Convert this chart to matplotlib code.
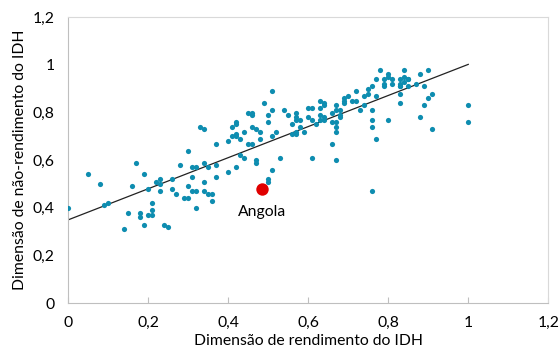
import numpy as np
import matplotlib
matplotlib.use("Agg")
import matplotlib.pyplot as plt

plt.rcParams['font.family'] = ['Lato', 'DejaVu Sans']

# dimensão de rendimento (x) e não-rendimento (y) do IDH
rend = [0.00, 0.05, 0.08, 0.09, 0.10, 0.17, 0.19, 0.16, 0.15, 0.14, 0.18, 0.18, 0.20, 0.19,
        0.21, 0.21, 0.21, 0.20, 0.22, 0.23, 0.23, 0.23, 0.24, 0.25, 0.26, 0.27, 0.26, 0.28,
        0.33, 0.34, 0.30, 0.30, 0.29, 0.30, 0.31, 0.32, 0.32, 0.31, 0.31, 0.32, 0.34, 0.35,
        0.34, 0.34, 0.35, 0.36, 0.36, 0.37, 0.37, 0.37, 0.40, 0.40, 0.41, 0.41, 0.42, 0.42,
        0.42, 0.42, 0.43, 0.44, 0.42, 0.45, 0.46, 0.46, 0.47, 0.48, 0.43, 0.44, 0.47, 0.47,
        0.48, 0.50, 0.51, 0.52, 0.53, 0.51, 0.50, 0.50,
        0.51, 0.49, 0.45, 0.46, 0.46, 0.50, 0.51, 0.54, 0.55, 0.57, 0.57, 0.57, 0.58, 0.56,
        0.58, 0.56, 0.57, 0.57, 0.59, 0.60, 0.61, 0.60, 0.61, 0.63, 0.64, 0.64, 0.63, 0.63,
        0.62, 0.63, 0.64, 0.64, 0.61, 0.66, 0.67, 0.66, 0.67, 0.66, 0.67, 0.67, 0.68, 0.68,
        0.67, 0.67, 0.68, 0.69, 0.69, 0.69, 0.70, 0.72, 0.71, 0.72, 0.73,
        0.78, 0.84, 0.90, 0.80, 0.81, 0.80, 0.79, 0.77, 0.76, 0.75, 0.75, 0.74, 0.79, 0.79,
        0.81, 0.83, 0.84, 0.84, 0.85, 0.85, 0.83, 0.83, 0.83, 0.85, 0.87, 0.88, 0.89, 0.83,
        0.77, 0.74, 0.76, 0.76, 0.76, 0.77, 0.80, 0.83, 0.88, 0.89, 0.90, 0.91, 0.91, 1.00,
        1.00, 0.76]
nao_rend = [0.40, 0.54, 0.50, 0.41, 0.42, 0.59, 0.54, 0.49, 0.38, 0.31, 0.38, 0.36, 0.37, 0.33,
            0.39, 0.42, 0.37, 0.48, 0.51, 0.52, 0.50, 0.47, 0.33, 0.32, 0.48, 0.46, 0.52, 0.58,
            0.74, 0.73, 0.64, 0.49, 0.44, 0.44, 0.47, 0.47, 0.40, 0.53, 0.57, 0.57, 0.59, 0.57,
            0.51, 0.47, 0.46, 0.46, 0.43, 0.58, 0.53, 0.67, 0.55, 0.68, 0.70, 0.74, 0.75, 0.76,
            0.71, 0.70, 0.69, 0.72, 0.57, 0.67, 0.67, 0.74, 0.73, 0.72, 0.62, 0.61, 0.59, 0.60,
            0.69, 0.76, 0.70, 0.72, 0.61, 0.56, 0.51, 0.52,
            0.89, 0.84, 0.80, 0.79, 0.80, 0.79, 0.81, 0.81, 0.79, 0.80, 0.77, 0.78, 0.77, 0.75,
            0.74, 0.71, 0.71, 0.72, 0.72, 0.82, 0.82, 0.78, 0.77, 0.85, 0.84, 0.83, 0.82, 0.79,
            0.75, 0.77, 0.77, 0.78, 0.61, 0.67, 0.60, 0.76, 0.76, 0.80, 0.81, 0.83, 0.79, 0.78,
            0.74, 0.72, 0.81, 0.86, 0.85, 0.84, 0.87, 0.89, 0.85, 0.85, 0.81,
            0.98, 0.98, 0.98, 0.96, 0.94, 0.95, 0.94, 0.94, 0.91, 0.90, 0.88, 0.87, 0.92, 0.91,
            0.92, 0.94, 0.93, 0.95, 0.94, 0.94, 0.92, 0.91, 0.91, 0.91, 0.92, 0.96, 0.91, 0.88,
            0.87, 0.83, 0.81, 0.77, 0.74, 0.69, 0.77, 0.84, 0.78, 0.83, 0.86, 0.88, 0.73, 0.83,
            0.76, 0.47]

angola_x = 0.485
angola_y = 0.48

xticks = [0, 0.2, 0.4, 0.6, 0.8, 1, 1.2]
yticks = [0, 0.2, 0.4, 0.6, 0.8, 1, 1.2]

def fmt(v):
    s = ('%.1f' % v).replace('.', ',')
    return s[:-2] if s.endswith(',0') else s

fig = plt.figure(figsize=(5.6, 3.6), dpi=100)
ax = fig.add_axes([0.122, 0.158, 0.857, 0.794])

ax.scatter(rend, nao_rend, s=14, color='#0E8DB0', linewidths=0, zorder=3)
ax.scatter([angola_x], [angola_y], s=80, color='#E00000', linewidths=0, zorder=4)
ax.annotate('Angola', (angola_x, angola_y), xytext=(0, -12), textcoords='offset points',
            ha='center', va='top', fontsize=11.3, color='#000000')

# linha de tendência
a, b = np.polyfit(rend + [angola_x], nao_rend + [angola_y], 1)
xl = np.array([0, 1])
ax.plot(xl, a * xl + b, color='#222222', linewidth=0.9, zorder=2)

ax.set_xlim(0, 1.2)
ax.set_ylim(0, 1.2)
ax.set_xticks(xticks)
ax.set_xticklabels([fmt(v) for v in xticks])
ax.set_yticks(yticks)
ax.set_yticklabels([fmt(v) for v in yticks])
ax.tick_params(axis='x', direction='in', length=4, color='#BFBFBF', labelsize=11.3, pad=9)
ax.tick_params(axis='y', length=0, labelsize=11.3, pad=10)

for s in ['left', 'bottom']:
    ax.spines[s].set_color('#BFBFBF')
for s in ['top', 'right']:
    ax.spines[s].set_color('#D9D9D9')

ax.set_xlabel('Dimensão de rendimento do IDH', fontsize=11.3, labelpad=3)
ax.set_ylabel('Dimensão de não-rendimento do IDH', fontsize=11.3, labelpad=4)

fig.savefig('out.png', dpi=100)
